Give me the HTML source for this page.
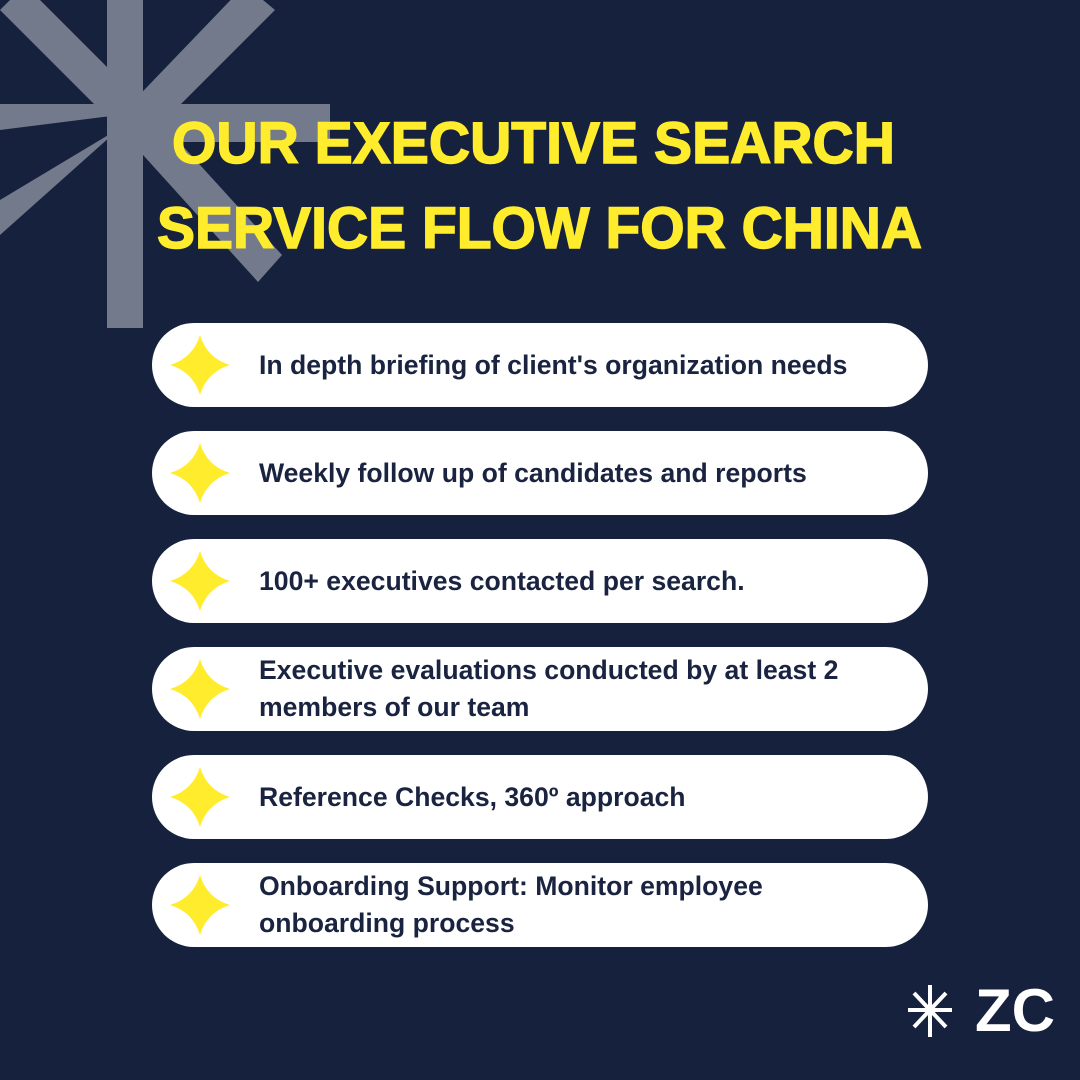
<!DOCTYPE html>
<html><head><meta charset="utf-8"><style>
body{margin:0;width:1080px;height:1080px;background:#15213d;position:relative;overflow:hidden;font-family:"Liberation Sans",sans-serif}
.card{position:absolute;left:152px;width:776px;height:84px;border-radius:42px;background:#fff}
.t{position:absolute;left:107px;top:0;height:84px;display:flex;align-items:center;font-weight:bold;font-size:26.6px;line-height:37px;color:#1a2340;white-space:nowrap}
</style></head><body>
<svg width="1080" height="1080" style="position:absolute;left:0;top:0">
<g fill="#737a8c">
<rect x="107" y="0" width="36" height="110"/>
<polygon points="107,110 143,110 143,328 107,328"/>
<rect x="140" y="104" width="190" height="38"/>
<polygon points="0,104 140,104 135,113 0,130"/>
<polygon points="0,10 25,-15 150,110 125,135"/>
<polygon points="245,-15 275,10 150,135 125,110"/>
<polygon points="150,110 282,255 258,282 125,135"/>
<polygon points="120,128 0,235 0,200"/>
</g>
<g fill="#ffec2d" font-weight="bold" font-size="58" font-family="Liberation Sans, sans-serif" stroke="#ffec2d" stroke-width="1.5">
<text x="172" y="163" textLength="723" lengthAdjust="spacingAndGlyphs">OUR EXECUTIVE SEARCH</text>
<text x="157" y="248" textLength="765" lengthAdjust="spacingAndGlyphs">SERVICE FLOW FOR CHINA</text>
</g>
<g stroke="#fff" stroke-width="4">
<line x1="930" y1="985" x2="930" y2="1037"/>
<line x1="908" y1="1010" x2="952" y2="1010"/>
<line x1="914" y1="993" x2="946" y2="1027"/>
<line x1="946" y1="993" x2="914" y2="1027"/>
</g>
<text x="975" y="1031" fill="#fff" font-weight="bold" font-size="60" font-family="Liberation Sans, sans-serif">ZC</text>
</svg>
<div class="card" style="top:323px"><div class="t">In depth briefing of client's organization needs</div></div>
<div class="card" style="top:431px"><div class="t">Weekly follow up of candidates and reports</div></div>
<div class="card" style="top:539px"><div class="t">100+ executives contacted per search.</div></div>
<div class="card" style="top:647px"><div class="t">Executive evaluations conducted by at least 2<br>members of our team</div></div>
<div class="card" style="top:755px"><div class="t">Reference Checks, 360º approach</div></div>
<div class="card" style="top:863px"><div class="t">Onboarding Support: Monitor employee<br>onboarding process</div></div>
<svg width="1080" height="1080" style="position:absolute;left:0;top:0">
<defs><path id="s" d="M0,-30 Q7,-7 30,0 Q7,7 0,30 Q-7,7 -30,0 Q-7,-7 0,-30Z" fill="#ffec2d"/></defs>
<use href="#s" x="200" y="365"/><use href="#s" x="200" y="473"/><use href="#s" x="200" y="581"/>
<use href="#s" x="200" y="689"/><use href="#s" x="200" y="797"/><use href="#s" x="200" y="905"/>
</svg>
</body></html>
